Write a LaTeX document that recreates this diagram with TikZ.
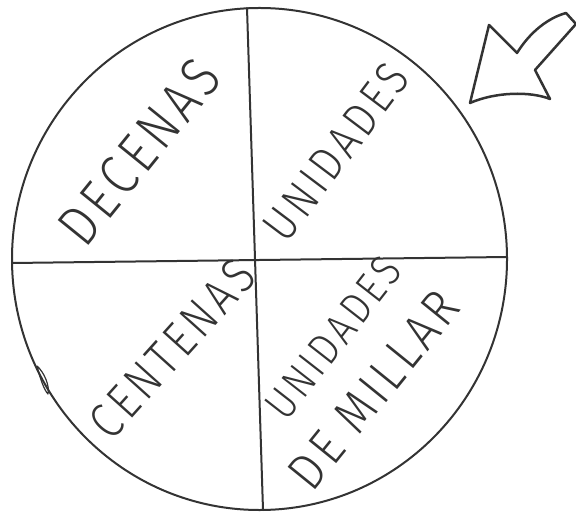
\documentclass[tikz,border=0pt]{standalone}
\usepackage{fontspec}
\newfontfamily\hand[LetterSpace=10]{Fira Sans Light}
\usetikzlibrary{calc}
\definecolor{ink}{HTML}{333333}
\tikzset{
  rim/.style={
    draw=ink,
    line width=1pt,
    line join=round,
    line cap=round
  },
  tag/.style={
    inner sep=0pt,
    text=ink,
    font={\hand\fontsize{#1}{#1}\selectfont}
  },
  every picture/.style={x=0.5pt,y=-0.5pt}
}

\begin{document}
\begin{tikzpicture}
  \useasboundingbox (0,0) rectangle (576,512);
  % circle and its two cuts
  \coordinate (mid) at (259.5,259);
  \coordinate (top) at (247,8);
  \coordinate (bot) at (263,510);
  \coordinate (lft) at (12,263);
  \coordinate (rgt) at (507,257);
  \draw[rim] (mid) ellipse [x radius=247.5, y radius=251];
  \draw[rim] (top)--(bot);
  \draw[rim] (lft)--(rgt);
  \draw[rim, line width=0.6pt] (37,366) .. controls (44,372) and (50,386) .. (48,394)
    .. controls (44,390) and (40,378) .. (37,366);
  % labels
  \node[tag=24pt, rotate=51, yscale=1.2] (dec) at (139,152) {DECENAS};
  \node[tag=20pt, rotate=53, yscale=1.2] (uni) at (336,152) {UNIDADES};
  \node[tag=21pt, rotate=48, yscale=1.2] (cen) at (172,349) {CENTENAS};
  \node[tag=18.5pt, rotate=52, yscale=1.2] (um1) at (333,338) {UNIDADES};
  \node[tag=22.5pt, rotate=51, yscale=1.15] (um2) at (374,390) {DE MILLAR};
  % arrow
  \draw[rim, line width=1.25pt] (470,103) -- (489,25) -- (517,53)
    .. controls (530,32) and (548,18) .. (566,13) -- (576,24)
    -- (535,70) -- (550,99)
    .. controls (530,91) and (495,92) .. (470,103) -- cycle;
\end{tikzpicture}
\end{document}
